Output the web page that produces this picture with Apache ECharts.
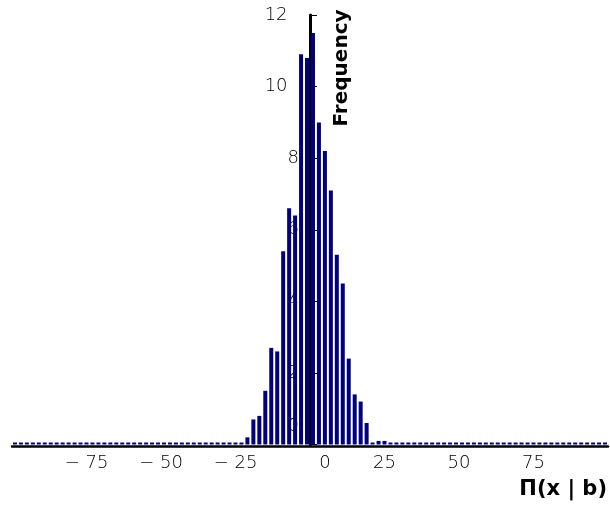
<!DOCTYPE html>
<html>
<head>
<meta charset="utf-8">
<style>
  html, body { margin: 0; padding: 0; background: #ffffff; }
  #chart { width: 610px; height: 506px; }
</style>
<script src="https://cdn.jsdelivr.net/npm/echarts@6/dist/echarts.min.js"></script>
</head>
<body>
<div id="chart"></div>
<script>
// Histogram bins: 100 bins of width 2 covering [-100, 100]
const binLow = -100;
const binWidth = 2;

// Frequency (%) per bin, left to right
const freqPercent = [
  0, 0, 0, 0, 0, 0, 0, 0, 0, 0,
  0, 0, 0, 0, 0, 0, 0, 0, 0, 0,
  0, 0, 0, 0, 0, 0, 0, 0, 0, 0,
  0, 0, 0, 0, 0, 0, 0, 0, 0, 0.2,
  0.7, 0.8, 1.5, 2.7, 2.6, 5.4, 6.6, 6.4, 10.9, 10.8,
  11.5, 9.0, 8.2, 7.1, 5.3, 4.5, 2.4, 1.4, 1.2, 0.6,
  0, 0.1, 0.1, 0, 0, 0, 0, 0, 0, 0,
  0, 0, 0, 0, 0, 0, 0, 0, 0, 0,
  0, 0, 0, 0, 0, 0, 0, 0, 0, 0,
  0, 0, 0, 0, 0, 0, 0, 0, 0, 0
];

// Axis ticks
const xTicks = [-75, -50, -25, 0, 25, 50, 75];
const yTicks = [0, 2, 4, 6, 8, 10, 12];

const xTitle = 'Π(x | b)';
const yTitle = 'Frequency';

const barData = freqPercent.map((v, i) => [binLow + binWidth * (i + 0.5), v]);

const gridLeft = 12, gridRight = 2, width = 610;
// pixel distance from the grid's left edge to x = 0
const zeroOffset = (width - gridLeft - gridRight) * (0 - (-100)) / 200;

const tickFont = {
  fontFamily: 'DejaVu Sans',
  fontSize: 18,
  fontWeight: 200,
  color: '#000000'
};

const chart = echarts.init(document.getElementById('chart'), null, { renderer: 'canvas' });

chart.setOption({
  animation: false,
  backgroundColor: '#ffffff',
  grid: { left: gridLeft, right: gridRight, top: 15, bottom: 61.5, outerBoundsMode: 'none', containLabel: false },
  xAxis: {
    type: 'value',
    min: -100,
    max: 100,
    interval: 25,
    position: 'bottom',
    offset: 1.5,
    axisLine: { show: true, onZero: false, lineStyle: { color: '#000000', width: 2.5 } },
    axisTick: { show: false },
    splitLine: { show: false },
    axisLabel: Object.assign({}, tickFont, {
      margin: 8,
      formatter: function (v) {
        if (xTicks.indexOf(v) < 0) return '';
        if (v === 0) return '{z|0}';
        return v < 0 ? '\u2212 ' + Math.abs(v) : String(v);
      },
      rich: { z: Object.assign({}, tickFont, { padding: [0, 0, 0, 30] }) }
    })
  },
  yAxis: {
    type: 'value',
    min: 0,
    max: 12,
    interval: 2,
    position: 'left',
    offset: -zeroOffset,
    axisLine: { show: true, onZero: false, lineStyle: { color: '#000000', width: 3 } },
    axisTick: { show: true, inside: true, length: 7, lineStyle: { color: '#000000', width: 1 } },
    splitLine: { show: false },
    axisLabel: Object.assign({}, tickFont, {
      margin: 11,
      formatter: function (v) {
        if (yTicks.indexOf(v) < 0) return '';
        if (v === 0) return '{z|0}';
        if (v >= 10) return v + '  ';
        return String(v);
      },
      rich: {
        z: Object.assign({}, tickFont, { padding: [0, 0, 36, 0] })
      }
    })
  },
  series: [{
    type: 'bar',
    data: barData,
    barWidth: 4,
    barMinHeight: 2,
    itemStyle: { color: '#000080' },
    emphasis: { disabled: true }
  }],
  graphic: [
    {
      type: 'text',
      x: 342,
      y: 68,
      rotation: Math.PI / 2,
      style: {
        text: yTitle,
        fontFamily: 'DejaVu Sans',
        fontWeight: 'bold',
        fontSize: 20,
        fill: '#000000',
        align: 'center',
        verticalAlign: 'middle'
      }
    },
    {
      type: 'text',
      x: 607,
      y: 490,
      style: {
        text: xTitle,
        fontFamily: 'DejaVu Sans',
        fontWeight: 'bold',
        fontSize: 21,
        fill: '#000000',
        align: 'right',
        verticalAlign: 'middle'
      }
    }
  ]
});
</script>
</body>
</html>
